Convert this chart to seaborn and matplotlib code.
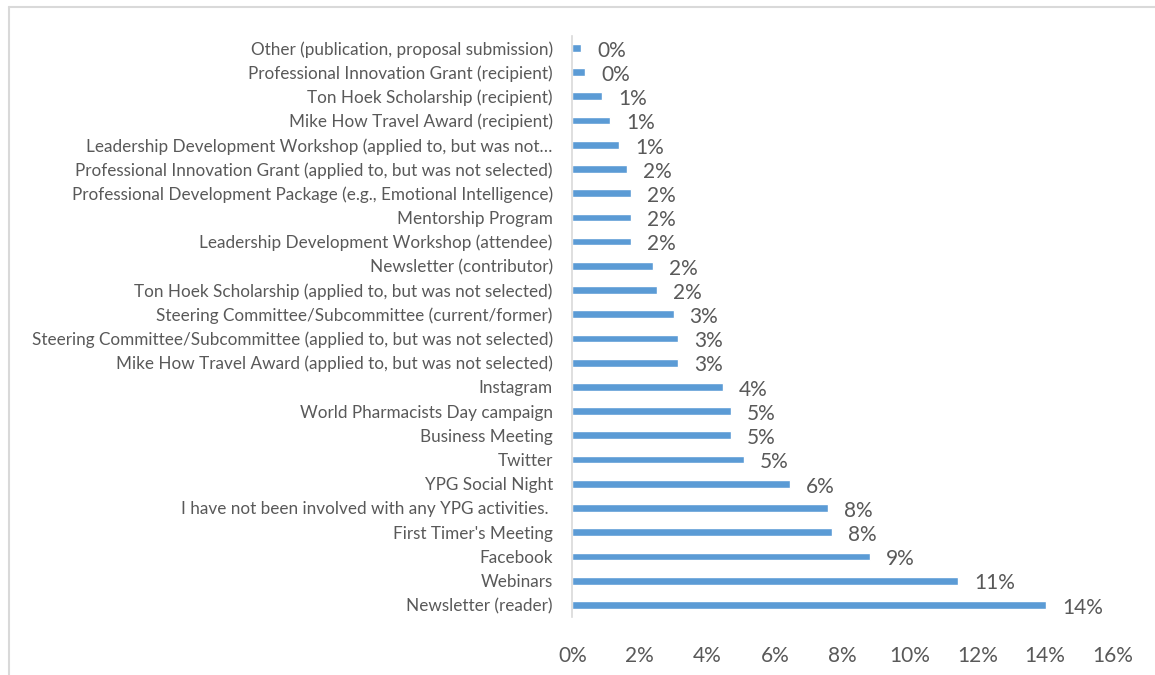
import matplotlib
matplotlib.use("Agg")
import matplotlib.pyplot as plt
from matplotlib.lines import Line2D
import seaborn as sns
import pandas as pd

# ── Data (share of respondents, %) ─────────────────────────
activities = [
    "Other (publication, proposal submission)",
    "Professional Innovation Grant (recipient)",
    "Ton Hoek Scholarship (recipient)",
    "Mike How Travel Award (recipient)",
    "Leadership Development Workshop (applied to, but was not\u2026",
    "Professional Innovation Grant (applied to, but was not selected)",
    "Professional Development Package (e.g., Emotional Intelligence)",
    "Mentorship Program",
    "Leadership Development Workshop (attendee)",
    "Newsletter (contributor)",
    "Ton Hoek Scholarship (applied to, but was not selected)",
    "Steering Committee/Subcommittee (current/former)",
    "Steering Committee/Subcommittee (applied to, but was not selected)",
    "Mike How Travel Award (applied to, but was not selected)",
    "Instagram",
    "World Pharmacists Day campaign",
    "Business Meeting",
    "Twitter",
    "YPG Social Night",
    "I have not been involved with any YPG activities. ",
    "First Timer's Meeting",
    "Facebook",
    "Webinars",
    "Newsletter (reader)",
]
share = [0.27, 0.38, 0.88, 1.13, 1.38, 1.63, 1.75, 1.75, 1.75, 2.38,
         2.50, 3.00, 3.13, 3.13, 4.47, 4.70, 4.70, 5.08, 6.45, 7.58,
         7.70, 8.82, 11.43, 14.04]
xticks = [0, 2, 4, 6, 8, 10, 12, 14, 16]

df = pd.DataFrame({"activity": activities, "share": share})

# ── Style ──────────────────────────────────────────────────
sns.set_theme(style="white")
plt.rcParams["font.family"] = ["Lato", "DejaVu Sans"]
BLUE = "#5B9BD5"
TEXT = "#595959"
GRID = "#D9D9D9"

fig = plt.figure(figsize=(11.55, 6.75), dpi=100)
ax = fig.add_axes([0.4955, 0.086, 0.4675, 0.861])

sns.barplot(data=df, x="share", y="activity", orient="h", color=BLUE,
            width=0.32, saturation=1, ax=ax)

ax.set_xlim(0, 16)
ax.set_ylim(len(activities) - 0.5, -0.5)
ax.set_xticks(xticks)
ax.set_xticklabels([f"{t}%" for t in xticks], fontsize=15, color=TEXT)
ax.tick_params(axis="x", length=0, pad=21)
ax.tick_params(axis="y", length=0, pad=14, labelsize=12.3, labelcolor=TEXT)
ax.set_xlabel("")
ax.set_ylabel("")

for s in ["top", "right", "bottom"]:
    ax.spines[s].set_visible(False)
ax.spines["left"].set_color(GRID)
ax.spines["left"].set_linewidth(1.2)

# data labels
for i, v in enumerate(share):
    ax.annotate(f"{v:.0f}%", (v, i), xytext=(11.5, -2), textcoords="offset points",
                ha="left", va="center", fontsize=15, color=TEXT)

# chart frame (left and top edges visible)
fig.add_artist(Line2D([9 / 1155, 9 / 1155], [0, 1 - 7 / 675], color=GRID, lw=1.5))
fig.add_artist(Line2D([9 / 1155, 1], [1 - 7 / 675, 1 - 7 / 675], color=GRID, lw=1.5))

fig.savefig("out.png", dpi=100)
